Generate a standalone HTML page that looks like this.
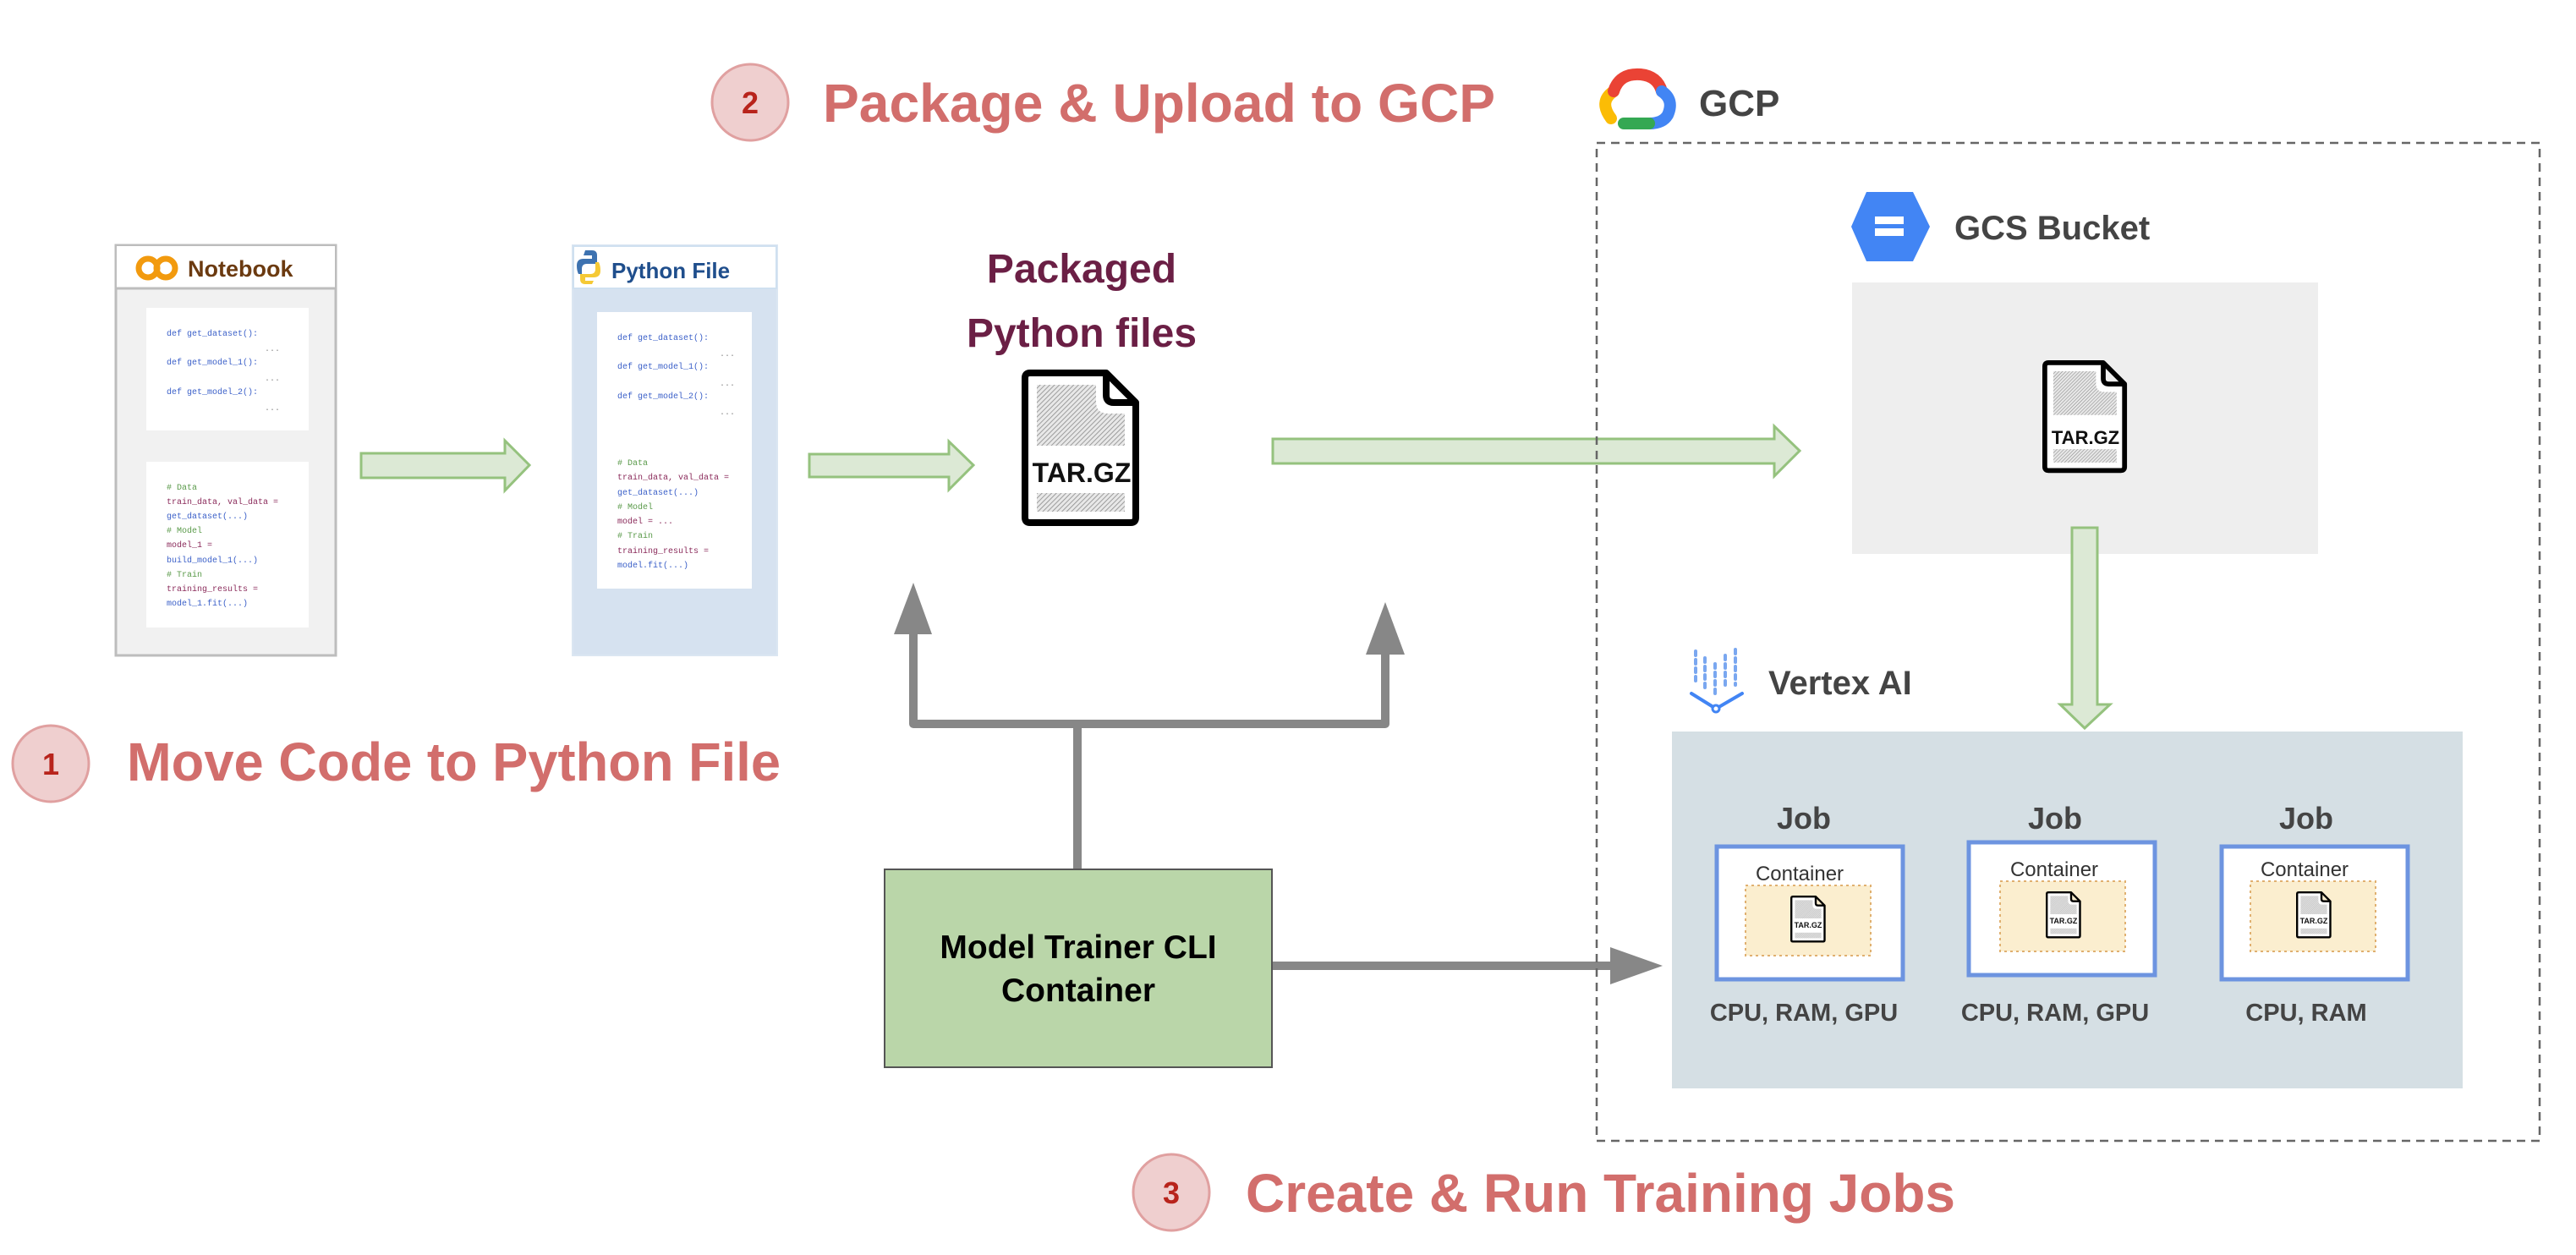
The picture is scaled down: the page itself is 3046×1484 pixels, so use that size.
<!DOCTYPE html>
<html><head><meta charset="utf-8"><style>
html,body{margin:0;padding:0;background:#fff}
svg{display:block}
text{font-family:"Liberation Sans",Arial,sans-serif}
.m text{font-family:"Liberation Mono",monospace;font-size:10px}
</style></head><body>
<svg width="3046" height="1484" viewBox="0 0 3046 1484" xmlns="http://www.w3.org/2000/svg">
<defs>
<pattern id="hatch" width="4" height="4" patternUnits="userSpaceOnUse" patternTransform="rotate(45)">
<rect width="4" height="4" fill="#e8e8e8"/><line x1="0" y1="0" x2="0" y2="4" stroke="#8a8a8a" stroke-width="1.6"/>
</pattern>
<g id="file">
<path d="M4,10 Q4,4 10,4 H100 V30 Q100,39 109,39 H135 V175 Q135,181 129,181 H10 Q4,181 4,175 Z" fill="#fff"/>
<path d="M18,18 H88 V38 Q88,52 102,52 H122 V90 H18 Z" fill="url(#hatch)"/>
<rect x="18" y="146" width="104" height="22" fill="url(#hatch)"/>
<path d="M10,4 H100 L135,39 V175 Q135,181 129,181 H10 Q4,181 4,175 V10 Q4,4 10,4 Z" fill="none" stroke="#000" stroke-width="8" stroke-linejoin="round"/>
<path d="M100,4 V30 Q100,39 109,39 H135" fill="none" stroke="#000" stroke-width="8" stroke-linejoin="round"/>
</g>
</defs>

<circle cx="60" cy="903" r="45" fill="#efcfcf" stroke="#e0a0a0" stroke-width="3"/>
<text x="60" y="916" font-size="36" font-weight="bold" fill="#b8241c" text-anchor="middle">1</text>
<text x="150" y="923" font-size="64" font-weight="bold" fill="#d26e6c" textLength="773" lengthAdjust="spacingAndGlyphs">Move Code to Python File</text>

<circle cx="887" cy="121" r="45" fill="#efcfcf" stroke="#e0a0a0" stroke-width="3"/>
<text x="887" y="134" font-size="36" font-weight="bold" fill="#b8241c" text-anchor="middle">2</text>
<text x="973" y="144" font-size="64" font-weight="bold" fill="#d26e6c" textLength="795" lengthAdjust="spacingAndGlyphs">Package &amp; Upload to GCP</text>

<circle cx="1385" cy="1410" r="45" fill="#efcfcf" stroke="#e0a0a0" stroke-width="3"/>
<text x="1385" y="1423" font-size="36" font-weight="bold" fill="#b8241c" text-anchor="middle">3</text>
<text x="1473" y="1433" font-size="64" font-weight="bold" fill="#d26e6c" textLength="839" lengthAdjust="spacingAndGlyphs">Create &amp; Run Training Jobs</text>

<rect x="137" y="290" width="260" height="485" fill="#f1f1f1" stroke="#bdbdbd" stroke-width="3"/>
<rect x="138" y="291" width="258" height="50" fill="#fff"/>
<line x1="137" y1="341" x2="397" y2="341" stroke="#bdbdbd" stroke-width="3"/>
<circle cx="175" cy="317" r="11" fill="none" stroke="#f29a0e" stroke-width="7"/>
<circle cx="196" cy="317" r="11" fill="none" stroke="#f29a0e" stroke-width="7"/>
<text x="222" y="327" font-size="27" font-weight="bold" fill="#6b3a10">Notebook</text>
<rect x="173" y="364" width="192" height="145" fill="#fff"/>
<rect x="173" y="546" width="192" height="196" fill="#fff"/>
<g class="m" fill="#3a5fc8">
<text x="197" y="397">def get_dataset():</text>
<text x="197" y="431">def get_model_1():</text>
<text x="197" y="466">def get_model_2():</text>
<text x="313" y="415" fill="#888">...</text><text x="313" y="450" fill="#888">...</text><text x="313" y="485" fill="#888">...</text>
<text x="197" y="579" fill="#5a9a4a"># Data</text>
<text x="197" y="596" fill="#8a2a5a">train_data, val_data =</text>
<text x="197" y="613">get_dataset(...)</text>
<text x="197" y="630" fill="#5a9a4a"># Model</text>
<text x="197" y="647" fill="#8a2a5a">model_1 =</text>
<text x="197" y="665">build_model_1(...)</text>
<text x="197" y="682" fill="#5a9a4a"># Train</text>
<text x="197" y="699" fill="#8a2a5a">training_results =</text>
<text x="197" y="716">model_1.fit(...)</text>
</g>

<rect x="677" y="290" width="242" height="485" fill="#d6e2f0" stroke="#dbe6f2" stroke-width="2"/>
<rect x="678" y="291" width="240" height="50" fill="#fff" stroke="#cfe0f0" stroke-width="2"/>
<path d="M692,296 h8 q6,0 6,6 v10 h-12 q-6,0 -6,6 v6 h-4 q-2,-4 -2,-10 q0,-8 8,-8 h10 v-4 h-10 z" fill="#3d72b0"/>
<path d="M700,336 h-8 q-6,0 -6,-6 v-6 h12 q6,0 6,-6 v-8 h4 q2,4 2,10 q0,8 -8,8 h-10 v4 h10 z" fill="#f5c935"/>
<text x="723" y="329" font-size="26" font-weight="bold" fill="#1f4e8c">Python File</text>
<rect x="706" y="369" width="183" height="327" fill="#fff"/>
<g class="m" fill="#3a5fc8">
<text x="730" y="402">def get_dataset():</text>
<text x="730" y="436">def get_model_1():</text>
<text x="730" y="471">def get_model_2():</text>
<text x="851" y="421" fill="#888">...</text><text x="851" y="456" fill="#888">...</text><text x="851" y="490" fill="#888">...</text>
<text x="730" y="550" fill="#5a9a4a"># Data</text>
<text x="730" y="567" fill="#8a2a5a">train_data, val_data =</text>
<text x="730" y="585">get_dataset(...)</text>
<text x="730" y="602" fill="#5a9a4a"># Model</text>
<text x="730" y="619" fill="#8a2a5a">model = ...</text>
<text x="730" y="636" fill="#5a9a4a"># Train</text>
<text x="730" y="654" fill="#8a2a5a">training_results =</text>
<text x="730" y="671">model.fit(...)</text>
</g>

<path d="M427,536 H597 V521 L626,550 L597,580 V565 H427 Z" fill="#dce9d5" stroke="#95c27e" stroke-width="3"/>
<path d="M957,537 H1122 V522 L1151,550 L1122,579 V564 H957 Z" fill="#dce9d5" stroke="#95c27e" stroke-width="3"/>
<path d="M1505,519 H2098 V504 L2128,533 L2098,563 V548 H1505 Z" fill="#dce9d5" stroke="#95c27e" stroke-width="3"/>

<text x="1279" y="334" font-size="48" font-weight="bold" fill="#6b1f45" text-anchor="middle">Packaged</text>
<text x="1279" y="410" font-size="48" font-weight="bold" fill="#6b1f45" text-anchor="middle">Python files</text>
<use href="#file" transform="translate(1208,437)"/>
<text x="1279" y="570" font-size="32" font-weight="bold" fill="#111" text-anchor="middle">TAR.GZ</text>

<g stroke="#878787" stroke-width="10" fill="none" stroke-linejoin="round">
<path d="M1080,745 V856 H1638 V770"/>
<path d="M1274,856 V1027"/>
<path d="M1504,1142 H1910"/>
</g>
<path d="M1080,689 L1102,750 H1057 Z" fill="#878787"/>
<path d="M1638,712 L1661,774 H1615 Z" fill="#878787"/>
<path d="M1966,1142 L1904,1120 V1164 Z" fill="#878787"/>

<rect x="1046" y="1028" width="458" height="234" fill="#bad6a9" stroke="#555" stroke-width="2"/>
<text x="1275" y="1133" font-size="39" font-weight="bold" fill="#000" text-anchor="middle">Model Trainer CLI</text>
<text x="1275" y="1184" font-size="39" font-weight="bold" fill="#000" text-anchor="middle">Container</text>

<rect x="1888" y="169" width="1115" height="1180" fill="none" stroke="#666" stroke-width="2.5" stroke-dasharray="10,7"/>
<g stroke-width="14" fill="none" stroke-linecap="round">
<path d="M1905,140 Q1890,120 1908,108" stroke="#fbbc05"/>
<path d="M1908,108 Q1915,86 1940,88 Q1960,90 1965,108" stroke="#ea4335"/>
<path d="M1965,108 Q1980,118 1972,136 Q1966,146 1950,146" stroke="#4285f4"/>
<path d="M1950,146 H1920" stroke="#34a853"/>
</g>
<text x="2009" y="137" font-size="44" font-weight="bold" fill="#444">GCP</text>

<path d="M2207,227 H2262 L2282,268 L2262,309 H2207 L2189,268 Z" fill="#4285f4"/>
<rect x="2217" y="256" width="34" height="9" fill="#fff"/><rect x="2217" y="270" width="34" height="9" fill="#fff"/>
<text x="2311" y="283" font-size="40" font-weight="bold" fill="#444">GCS Bucket</text>
<rect x="2190" y="334" width="551" height="321" fill="#eeeeee"/>
<use href="#file" transform="translate(2415,426) scale(0.72)"/>
<text x="2466" y="525" font-size="22" font-weight="bold" fill="#111" text-anchor="middle">TAR.GZ</text>

<path d="M2450,624 H2480 V833 H2495 L2465,861 L2436,833 H2450 Z" fill="#dce9d5" stroke="#95c27e" stroke-width="3"/>

<g stroke="#7aa7f0" stroke-width="4" stroke-linecap="round" stroke-dasharray="5,5">
<line x1="2005" y1="770" x2="2005" y2="805"/><line x1="2016" y1="778" x2="2016" y2="815"/>
<line x1="2028" y1="785" x2="2028" y2="820"/><line x1="2040" y1="775" x2="2040" y2="815"/>
<line x1="2052" y1="768" x2="2052" y2="810"/>
</g>
<path d="M2000,820 L2029,838 L2060,820" fill="none" stroke="#4285f4" stroke-width="4" stroke-linecap="round"/>
<circle cx="2029" cy="838" r="4" fill="#fff" stroke="#4285f4" stroke-width="3"/>
<text x="2091" y="821" font-size="40" font-weight="bold" fill="#444">Vertex AI</text>
<rect x="1977" y="865" width="935" height="422" fill="#d5dfe4"/>

<g font-weight="bold" fill="#444" text-anchor="middle">
<text x="2133" y="980" font-size="36">Job</text>
<text x="2430" y="980" font-size="36">Job</text>
<text x="2727" y="980" font-size="36">Job</text>
<text x="2133" y="1207" font-size="29">CPU, RAM, GPU</text>
<text x="2430" y="1207" font-size="29">CPU, RAM, GPU</text>
<text x="2727" y="1207" font-size="29">CPU, RAM</text>
</g>
<g>
<rect x="2030" y="1001" width="220" height="157" fill="#fff" stroke="#6d94e0" stroke-width="5"/>
<rect x="2328" y="996" width="220" height="157" fill="#fff" stroke="#6d94e0" stroke-width="5"/>
<rect x="2627" y="1001" width="220" height="157" fill="#fff" stroke="#6d94e0" stroke-width="5"/>
<rect x="2064" y="1047" width="148" height="83" fill="#fbeecf" stroke="#e0b070" stroke-width="2" stroke-dasharray="3,4"/>
<rect x="2365" y="1042" width="148" height="83" fill="#fbeecf" stroke="#e0b070" stroke-width="2" stroke-dasharray="3,4"/>
<rect x="2661" y="1042" width="148" height="83" fill="#fbeecf" stroke="#e0b070" stroke-width="2" stroke-dasharray="3,4"/>
<g font-size="24" fill="#333" text-anchor="middle">
<text x="2128" y="1041">Container</text>
<text x="2429" y="1036">Container</text>
<text x="2725" y="1036">Container</text>
</g>
<use href="#file" transform="translate(2117,1059) scale(0.3)"/>
<use href="#file" transform="translate(2419,1054) scale(0.3)"/>
<use href="#file" transform="translate(2715,1054) scale(0.3)"/>
<g font-size="9" font-weight="bold" fill="#111" text-anchor="middle">
<text x="2138" y="1097">TAR.GZ</text>
<text x="2440" y="1092">TAR.GZ</text>
<text x="2736" y="1092">TAR.GZ</text>
</g>
</g>
</svg>
</body></html>
